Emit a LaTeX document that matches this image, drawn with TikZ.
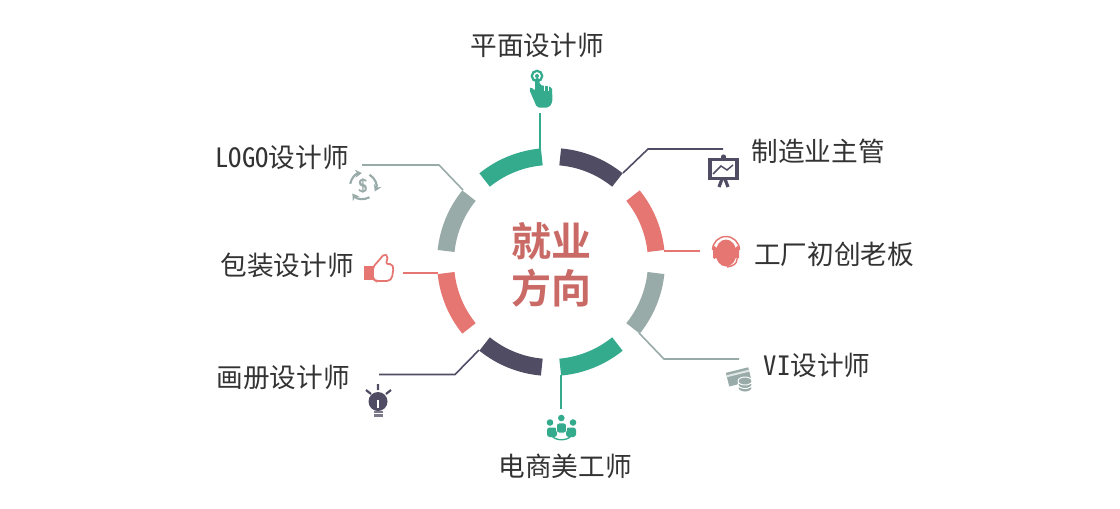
\documentclass[tikz,border=0pt]{standalone}
\usepackage{fontspec}
\newfontfamily\cjk[RawFeature=+hwid]{Noto Sans CJK SC}
\newfontfamily\cjkbold[BoldFont={Noto Sans CJK SC Bold}]{Noto Sans CJK SC Bold}
\definecolor{cgreen}{RGB}{53,171,142}
\definecolor{cdark}{RGB}{79,76,99}
\definecolor{cred}{RGB}{229,118,114}
\definecolor{cgrey}{RGB}{152,171,168}
\definecolor{ctitle}{RGB}{201,106,102}
\tikzset{every picture/.style={line width=0.75pt}}
\usetikzlibrary{arrows.meta}
\tikzset{
  ringseg/.style={line width=12.75pt},
  lead/.style={line width=1.2pt},
  lbl/.style={inner sep=0.75pt,text=black!80,font=\cjk\fontsize{20}{24}\selectfont},
  ttl/.style={inner sep=0.75pt,text=ctitle,font=\cjkbold\fontsize{30}{36}\selectfont},
  cyc/.style={color=cgrey,line width=1.6pt,-{Stealth[length=5pt,width=6pt]}}
}
\newcommand{\ringseg}[3]{\draw [ringseg,color=#1] (551,262)+(#2:105.5) arc [start angle=#2,end angle=#3,radius=105.5];}
\newcommand{\cycarc}[2]{\draw [cyc] (363,186)+(#1:13) arc [start angle=#1,end angle=#2,radius=13];}

\begin{document}
\begin{tikzpicture}[x=0.75pt,y=0.75pt,yscale=-1,xscale=1]
\useasboundingbox (0,0) rectangle (1120,508);

%Ring
\ringseg{cgreen}{-129}{-95}
\ringseg{cdark}{-85}{-51}
\ringseg{cred}{-39}{-6}
\ringseg{cgrey}{6}{39}
\ringseg{cgreen}{51}{85}
\ringseg{cdark}{95}{129}
\ringseg{cred}{141}{174}
\ringseg{cgrey}{-174}{-141}

%Lead ends
\coordinate (ga) at (540,113);
\coordinate (gb) at (540,149);
\coordinate (da) at (723,149);
\coordinate (db) at (648,149);
\coordinate (dc) at (623,173);
\coordinate (ra) at (700,251);
\coordinate (rb) at (664,251);
\coordinate (ya) at (739,359);
\coordinate (yb) at (664,359);
\coordinate (yc) at (639,333);
\coordinate (ha) at (561,409);
\coordinate (hb) at (561,375);
\coordinate (ka) at (379,374.5);
\coordinate (kb) at (455,374.5);
\coordinate (kc) at (479,350);
\coordinate (la) at (403,273);
\coordinate (lb) at (438,273);
\coordinate (na) at (362,165);
\coordinate (nb) at (439,165);
\coordinate (nc) at (463,190);

%Straight Lines
\draw [lead,color=cgreen] (ga) -- (gb);
\draw [lead,color=cdark] (da) -- (db) -- (dc);
\draw [lead,color=cred] (ra) -- (rb);
\draw [lead,color=cgrey] (ya) -- (yb) -- (yc);
\draw [lead,color=cgreen] (ha) -- (hb);
\draw [lead,color=cdark] (ka) -- (kb) -- (kc);
\draw [lead,color=cred] (la) -- (lb);
\draw [lead,color=cgrey] (na) -- (nb) -- (nc);

%Hand
\draw [color=cgreen,line width=1.7pt] (537,76) circle (5.2);
\fill [cgreen] (537,76) circle (2);
\fill [cgreen,rounded corners=1.5pt] (535,78) -- (539.5,78) -- (539.5,85) -- (552,87) -- (552.5,102) -- (549,107.5) -- (537,107.5) -- (529,89) -- (531,87) -- (535,91) -- cycle;
\draw [color=white,line width=0.6pt] (544,84) -- (544,91) (548.5,85) -- (548.5,91);
%Board
\draw [color=cdark,line width=2.6pt,fill=white] (710,159.5) rectangle (737,178.5);
\fill [cdark] (723.5,157) circle (2.6);
\draw [color=cdark,line width=2.4pt] (722,179) -- (719,187) (725,179) -- (728,187);
\draw [color=cdark,line width=1.1pt] (713,174) -- (721,166) -- (727,170) -- (733,165);
%Headset
\fill [cred] (726,253) ellipse (10.5 and 13.5);
\draw [color=cred,line width=1.1pt] (712.5,250) arc [start angle=180,end angle=360,radius=13.5];
\fill [cred,rounded corners=1pt] (713,246) rectangle (716,259);
\fill [cred,rounded corners=1pt] (736,246) rectangle (739,259);
\draw [color=cred,line width=1.1pt] (737,259) .. controls (737,264) and (733,266) .. (727,267);
%Thumb
\fill [cred] (364,266) rectangle (373,280);
\draw [color=cred,line width=1.3pt,fill=white,rounded corners=1.5pt] (373,267) -- (381,258) -- (384,254) -- (388,256) -- (386,264) -- (392,264) -- (393.5,268) -- (392,278) -- (389,281) -- (376,281) -- (373,279) -- cycle;
%Dollar
\cycarc{-170}{-95}
\cycarc{-60}{25}
\cycarc{60}{145}
\node (dollar) [inner sep=0pt,text=cgrey,font=\fontsize{14}{14}\selectfont\bfseries\sffamily] at (363,186) {\$};
%Bulb
\fill [cdark] (378,401.5) circle (9.5);
\fill [white] (377.4,400) rectangle (378.6,408);
\fill [cdark!75] (373.5,410.5) rectangle (382.5,417);
\draw [color=white,line width=0.5pt] (373.5,413.5) -- (382.5,413.5);
\draw [color=cdark,line width=1.6pt] (378,384) -- (378,390) (366,390) -- (371,394) (391,390) -- (386,394);
%Card and coins
\fill [cgrey,rotate around={-14:(738,376)}] (727,370) rectangle (750,384);
\draw [color=white!70!cgrey,line width=1.5pt,rotate around={-14:(738,376)}] (727,373.5) -- (750,373.5);
\draw [color=white,line width=0.7pt,fill=cgrey] (745,388) ellipse (7 and 4);
\draw [color=white,line width=0.7pt,fill=cgrey] (745,384.5) ellipse (7 and 4);
\draw [color=white,line width=0.7pt,fill=cgrey] (745,381) ellipse (7 and 4);
%People
\fill [cgreen] (561.3,418) circle (3.3) (550,422.5) circle (3.3) (573,422.5) circle (3.3);
\fill [cgreen,rounded corners=2pt] (547,427.5) rectangle (557,437);
\fill [cgreen,rounded corners=2pt] (566,427.5) rectangle (576,437);
\draw [color=white,line width=0.5pt,fill=cgreen,rounded corners=2pt] (556.5,423) rectangle (566.5,433);
\draw [color=cgreen,line width=1pt] (552,436) .. controls (556,441) and (567,441) .. (571,436);

% Text Node
\node (top) [lbl] at (537,45) {平面设计师};
\node (mfg) [lbl] at (818,151) {制造业主管};
\node (boss) [lbl] at (834,254) {工厂初创老板};
\node (vi) [lbl] at (817,365) {VI设计师};
\node (shop) [lbl] at (565,466) {电商美工师};
\node (album) [lbl] at (283,377) {画册设计师};
\node (pack) [lbl] at (287,265) {包装设计师};
\node (logo) [lbl] at (282,157) {LOGO设计师};
\node (ttla) [ttl] at (551,241) {就业};
\node (ttlb) [ttl] at (551,288.5) {方向};

\end{tikzpicture}
\end{document}
